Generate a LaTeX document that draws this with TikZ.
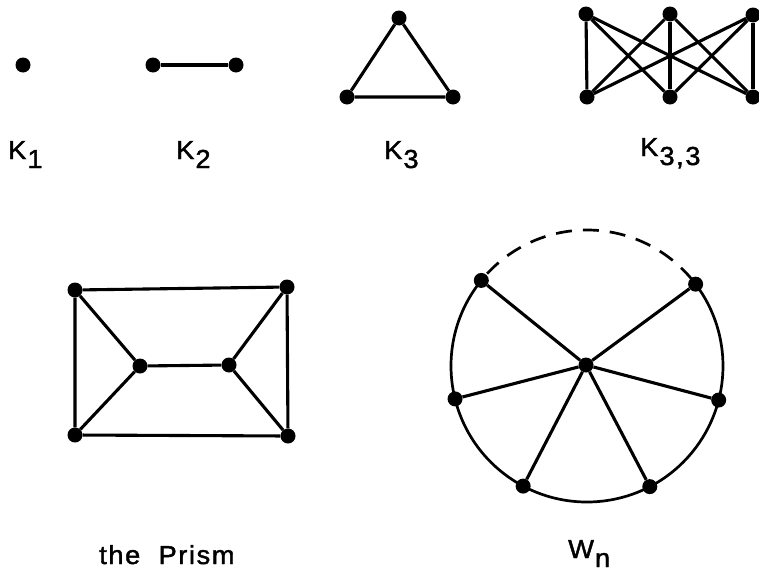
\documentclass[tikz,border=0pt]{standalone}
\usepackage{fontspec}
\setmainfont{Liberation Sans}[FakeStretch=1.05,LetterSpace=6,FakeBold=1.6]
\newcommand\subx[1]{\kern1pt\raisebox{-9pt}{#1}}
\begin{document}
\begin{tikzpicture}[x=1pt,y=1pt,
  vtx/.style={circle,fill=black,inner sep=0pt,minimum size=15pt},
  edge/.style={line width=3.1pt},
  rim/.style={line width=2.7pt},
  lbl/.style={anchor=base west,inner sep=0pt,font=\fontsize{26}{29}\selectfont}]
\useasboundingbox (0,0) rectangle (759,-573);
\clip (0,0) rectangle (759,-573);

% ---- K1
\node[vtx] (a1) at (23,-65) {};
% ---- K2
\node[vtx] (b1) at (153,-65) {};
\node[vtx] (b2) at (236,-65) {};
\draw[edge] (b1) -- (b2);
% ---- K3
\node[vtx] (c1) at (399,-18) {};
\node[vtx] (c2) at (347,-97) {};
\node[vtx] (c3) at (453,-97) {};
\draw[edge] (c1) -- (c2) -- (c3) -- (c1);
% ---- K3,3
\node[vtx] (t1) at (586,-14) {};
\node[vtx] (t2) at (670,-14) {};
\node[vtx] (t3) at (753,-15) {};
\node[vtx] (u1) at (587,-97) {};
\node[vtx] (u2) at (670,-97) {};
\node[vtx] (u3) at (753,-97) {};
\foreach \s in {t1,t2,t3}
  \foreach \t in {u1,u2,u3}
    \draw[edge] (\s) -- (\t);

% ---- labels
\node[lbl] (l1) at (8,-159) {K\subx{1}};
\node[lbl] (l2) at (176,-159) {K\subx{2}};
\node[lbl] (l3) at (384,-159) {K\subx{3}};
\node[lbl] (l33) at (640,-156) {K\subx{3,3}};
\node[lbl] (lp) at (99,-564) {the\ \ Prism};
\node[lbl] (lw) at (568,-558) {W\subx{n}};

% ---- Prism
\node[vtx] (p1) at (75,-290) {};
\node[vtx] (p2) at (287,-287) {};
\node[vtx] (p3) at (140,-366) {};
\node[vtx] (p4) at (229,-365) {};
\node[vtx] (p5) at (75,-435) {};
\node[vtx] (p6) at (288,-436) {};
\draw[edge] (p1) -- (p2) -- (p6) -- (p5) -- (p1);
\draw[edge] (p1) -- (p3) -- (p5);
\draw[edge] (p3) -- (p4);
\draw[edge] (p2) -- (p4) -- (p6);

% ---- W_n
\coordinate (wc) at (587,-366);
\draw[rim] ([shift={(wc)}]141:136) arc[start angle=141,end angle=397,radius=136];
\draw[rim,dash pattern=on 16pt off 11pt,dash phase=-6pt] ([shift={(wc)}]37:136) arc[start angle=37,end angle=141,radius=136];
\node[vtx] (h) at (586,-365) {};
\node[vtx] (w1) at ([shift={(wc)}]141:136) {};
\node[vtx] (w2) at ([shift={(wc)}]37:136) {};
\node[vtx] (w3) at ([shift={(wc)}]194:136) {};
\node[vtx] (w4) at ([shift={(wc)}]-14.5:136) {};
\node[vtx] (w5) at ([shift={(wc)}]242:136) {};
\node[vtx] (w6) at ([shift={(wc)}]-62.5:136) {};
\foreach \w in {w1,w2,w3,w4,w5,w6}
  \draw[edge] (h) -- (\w);
\end{tikzpicture}
\end{document}
